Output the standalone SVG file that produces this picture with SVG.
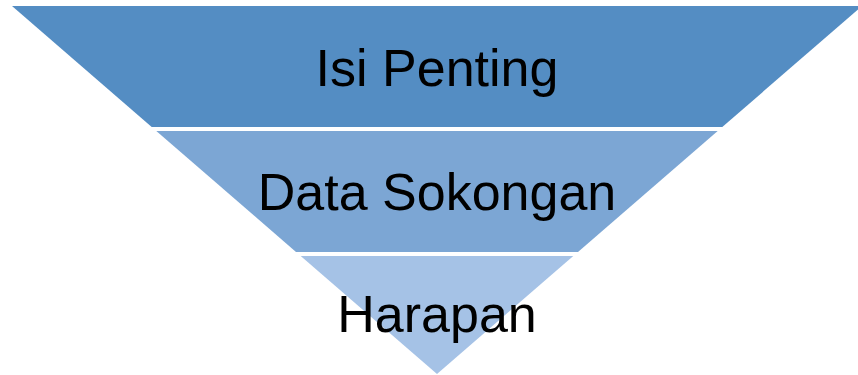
<svg xmlns="http://www.w3.org/2000/svg" width="858" height="375" viewBox="0 0 858 375">
<style>
.lbl{font-family:"Liberation Sans",Arial,sans-serif;font-size:52px;fill:#000;text-anchor:middle}
</style>
<rect width="858" height="375" fill="#fff"/>
<g id="band-top">
<polygon points="12,6 862,6 722.3,127 151.7,127" fill="#548DC3"/>
<text class="lbl" x="437" y="86">Isi Penting</text>
</g>
<g id="band-middle">
<polygon points="156.3,131 717.7,131 578,252 296,252" fill="#7CA6D4"/>
<text class="lbl" x="437" y="210">Data Sokongan</text>
</g>
<g id="band-bottom">
<polygon points="300.7,256 573.3,256 437,374" fill="#A5C2E6"/>
<text class="lbl" x="437" y="332">Harapan</text>
</g>
<g id="connectors"></g>
</svg>
